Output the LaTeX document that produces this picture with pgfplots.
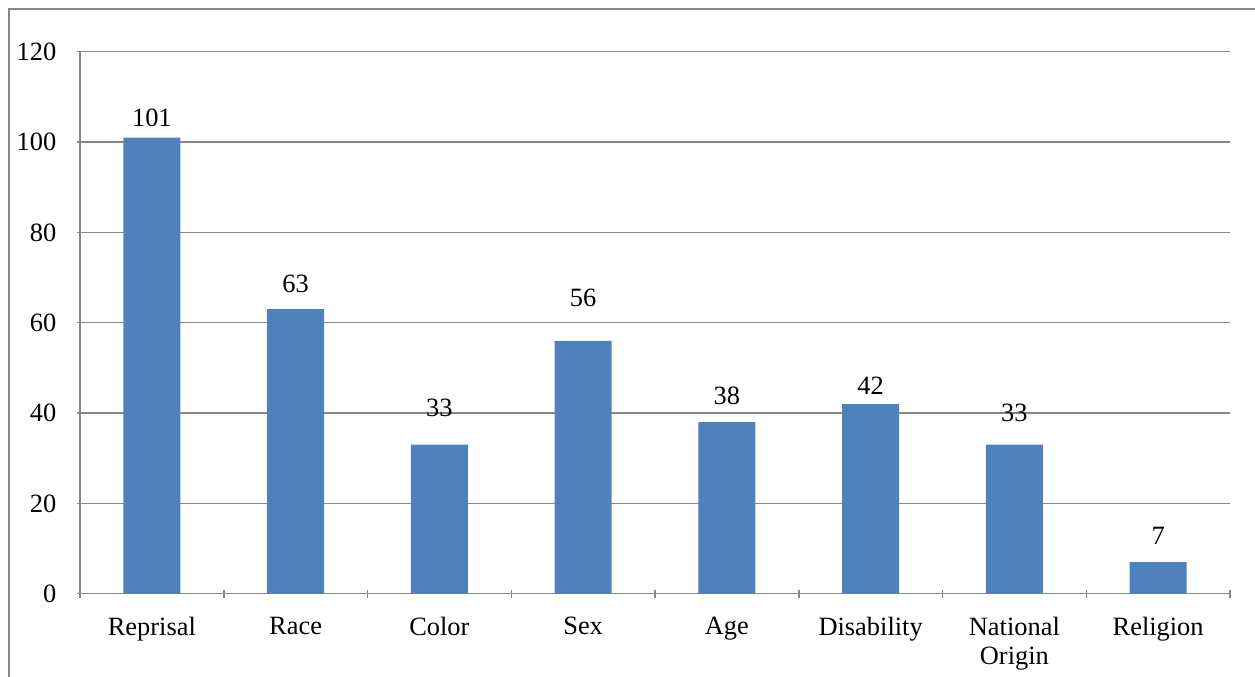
\documentclass[border=0pt]{standalone}
\usepackage{fontspec}
\setmainfont{Liberation Serif}
\usepackage{pgfplots}
\pgfplotsset{compat=1.18}
\definecolor{barblue}{HTML}{4F81BD}
\definecolor{gridgray}{HTML}{868686}
\begin{document}
\fontsize{13.2bp}{14.5bp}\selectfont
\begin{tikzpicture}[x=1bp,y=1bp]
\path[use as bounding box] (0,0) rectangle (627.5,338);
\draw[gridgray, line width=1bp] (4.5,-5) -- (4.5,333.5) -- (640,333.5);
\begin{axis}[
  at={(40bp,41.15bp)}, anchor=south west,
  scale only axis, width=575bp, height=271bp,
  xmin=-0.5, xmax=7.5, ymin=0, ymax=120,
  ytick={0,20,...,120},
  xtick={0,...,7},
  xticklabels={Reprisal,Race,Color,Sex,Age,Disability,National\\Origin,Religion},
  xticklabel style={align=center, yshift=-5.5bp, font=\fontsize{13.2bp}{14.5bp}\selectfont},
  yticklabel style={xshift=-5.5bp, font=\fontsize{13.2bp}{14.5bp}\selectfont},
  /pgf/number format/assume math mode=true,
  major x tick style={draw=none},
  minor xtick={-0.5,0.5,...,7.5},
  tick align=outside,
  major tick length=3.5bp, minor tick length=4bp,
  tick style={gridgray, line width=0.75bp},
  axis x line=bottom, axis y line=left,
  axis line style={-, gridgray, line width=0.75bp},
  ymajorgrids, major grid style={gridgray, line width=0.75bp},
  clip=false,
]
\addplot[ybar, bar width=28.5bp, bar shift=0pt, fill=barblue, draw=none]
  coordinates {(0,101) (1,63) (2,33) (3,56) (4,38) (5,42) (6,33) (7,7)};
\addplot[draw=none, mark=none, nodes near coords, point meta=explicit symbolic,
  every node near coord/.style={anchor=center, black, inner sep=0pt, font=\fontsize{13.2bp}{14.5bp}\selectfont}]
  coordinates {(0,105.3) [101] (1,68.7) [63] (2,41.2) [33] (3,65.4) [56]
               (4,43.8) [38] (5,46.0) [42] (6,40.0) [33] (7,12.7) [7]};
\end{axis}
\end{tikzpicture}
\end{document}
